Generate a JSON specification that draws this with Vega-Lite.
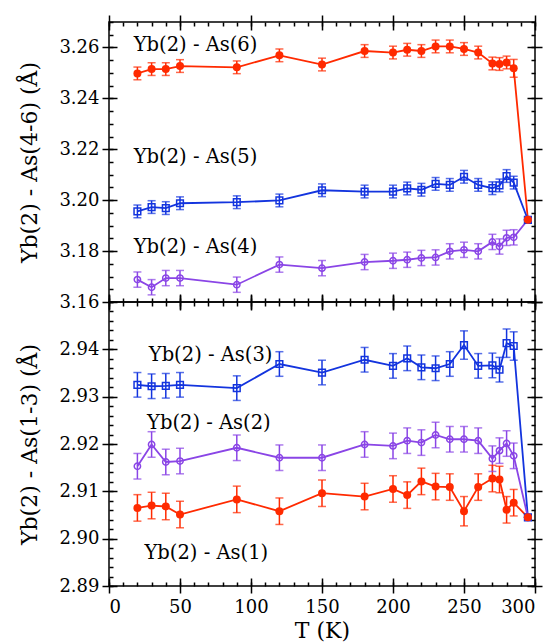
{
  "$schema": "https://vega.github.io/schema/vega-lite/v6.json",
  "padding": {"left": 18, "top": 13, "right": 5, "bottom": 0},
  "spacing": 0,
  "bounds": "flush",
  "config": {
    "font": "DejaVu Serif",
    "view": {"stroke": "black", "strokeWidth": 1.5},
    "text": {"font": "DejaVu Serif"},
    "axis": {"labelFont": "DejaVu Serif", "labelFontSize": 18, "titleFont": "DejaVu Serif", "titleFontSize": 22, "titleFontWeight": "normal", "labelColor": "black", "titleColor": "black", "tickColor": "black", "tickWidth": 1.5, "domain": false, "grid": false}
  },
  "datasets": {
    "top": [
      {"s":"As6","T":20,"d":3.2498,"lo":3.2473,"hi":3.2523},{"s":"As6","T":30,"d":3.2515,"lo":3.2490,"hi":3.2540},{"s":"As6","T":40,"d":3.2515,"lo":3.2490,"hi":3.2540},{"s":"As6","T":50,"d":3.2527,"lo":3.2502,"hi":3.2552},{"s":"As6","T":90,"d":3.2522,"lo":3.2497,"hi":3.2547},{"s":"As6","T":120,"d":3.2569,"lo":3.2544,"hi":3.2594},{"s":"As6","T":150,"d":3.2533,"lo":3.2508,"hi":3.2558},{"s":"As6","T":180,"d":3.2586,"lo":3.2561,"hi":3.2611},{"s":"As6","T":200,"d":3.2580,"lo":3.2555,"hi":3.2605},{"s":"As6","T":210,"d":3.2591,"lo":3.2566,"hi":3.2616},{"s":"As6","T":220,"d":3.2586,"lo":3.2561,"hi":3.2611},{"s":"As6","T":230,"d":3.2604,"lo":3.2579,"hi":3.2629},{"s":"As6","T":240,"d":3.2604,"lo":3.2579,"hi":3.2629},{"s":"As6","T":250,"d":3.2594,"lo":3.2569,"hi":3.2619},{"s":"As6","T":260,"d":3.2580,"lo":3.2555,"hi":3.2605},{"s":"As6","T":270,"d":3.2537,"lo":3.2512,"hi":3.2562},{"s":"As6","T":275,"d":3.2535,"lo":3.2510,"hi":3.2560},{"s":"As6","T":280,"d":3.2541,"lo":3.2516,"hi":3.2566},{"s":"As6","T":285,"d":3.2518,"lo":3.2483,"hi":3.2553},{"s":"As6","T":295,"d":3.1923,"lo":3.1923,"hi":3.1923},
      {"s":"As5","T":20,"d":3.1956,"lo":3.1931,"hi":3.1981},{"s":"As5","T":30,"d":3.1973,"lo":3.1948,"hi":3.1998},{"s":"As5","T":40,"d":3.1969,"lo":3.1944,"hi":3.1994},{"s":"As5","T":50,"d":3.1988,"lo":3.1963,"hi":3.2013},{"s":"As5","T":90,"d":3.1992,"lo":3.1967,"hi":3.2017},{"s":"As5","T":120,"d":3.1999,"lo":3.1974,"hi":3.2024},{"s":"As5","T":150,"d":3.2039,"lo":3.2014,"hi":3.2064},{"s":"As5","T":180,"d":3.2034,"lo":3.2009,"hi":3.2059},{"s":"As5","T":200,"d":3.2034,"lo":3.2009,"hi":3.2059},{"s":"As5","T":210,"d":3.2046,"lo":3.2021,"hi":3.2071},{"s":"As5","T":220,"d":3.2041,"lo":3.2016,"hi":3.2066},{"s":"As5","T":230,"d":3.2064,"lo":3.2039,"hi":3.2089},{"s":"As5","T":240,"d":3.2060,"lo":3.2035,"hi":3.2085},{"s":"As5","T":250,"d":3.2092,"lo":3.2067,"hi":3.2117},{"s":"As5","T":260,"d":3.2060,"lo":3.2035,"hi":3.2085},{"s":"As5","T":270,"d":3.2047,"lo":3.2022,"hi":3.2072},{"s":"As5","T":275,"d":3.2058,"lo":3.2033,"hi":3.2083},{"s":"As5","T":280,"d":3.2095,"lo":3.2070,"hi":3.2120},{"s":"As5","T":285,"d":3.2069,"lo":3.2044,"hi":3.2094},{"s":"As5","T":295,"d":3.1923,"lo":3.1923,"hi":3.1923},
      {"s":"As4","T":20,"d":3.1688,"lo":3.1658,"hi":3.1718},{"s":"As4","T":30,"d":3.1658,"lo":3.1628,"hi":3.1688},{"s":"As4","T":40,"d":3.1694,"lo":3.1664,"hi":3.1724},{"s":"As4","T":50,"d":3.1694,"lo":3.1664,"hi":3.1724},{"s":"As4","T":90,"d":3.1668,"lo":3.1638,"hi":3.1698},{"s":"As4","T":120,"d":3.1747,"lo":3.1717,"hi":3.1777},{"s":"As4","T":150,"d":3.1733,"lo":3.1703,"hi":3.1763},{"s":"As4","T":180,"d":3.1757,"lo":3.1727,"hi":3.1787},{"s":"As4","T":200,"d":3.1762,"lo":3.1732,"hi":3.1792},{"s":"As4","T":210,"d":3.1766,"lo":3.1736,"hi":3.1796},{"s":"As4","T":220,"d":3.1773,"lo":3.1743,"hi":3.1803},{"s":"As4","T":230,"d":3.1775,"lo":3.1745,"hi":3.1805},{"s":"As4","T":240,"d":3.1799,"lo":3.1769,"hi":3.1829},{"s":"As4","T":250,"d":3.1805,"lo":3.1775,"hi":3.1835},{"s":"As4","T":260,"d":3.1799,"lo":3.1769,"hi":3.1829},{"s":"As4","T":270,"d":3.1836,"lo":3.1806,"hi":3.1866},{"s":"As4","T":275,"d":3.1818,"lo":3.1788,"hi":3.1848},{"s":"As4","T":280,"d":3.1852,"lo":3.1822,"hi":3.1882},{"s":"As4","T":285,"d":3.1854,"lo":3.1824,"hi":3.1884},{"s":"As4","T":295,"d":3.1923,"lo":3.1923,"hi":3.1923}
    ],
    "bottom": [
      {"s":"As3","T":20,"d":2.9325,"lo":2.9299,"hi":2.9351},{"s":"As3","T":30,"d":2.9322,"lo":2.9296,"hi":2.9348},{"s":"As3","T":40,"d":2.9323,"lo":2.9297,"hi":2.9349},{"s":"As3","T":50,"d":2.9325,"lo":2.9299,"hi":2.9351},{"s":"As3","T":90,"d":2.9318,"lo":2.9292,"hi":2.9344},{"s":"As3","T":120,"d":2.9369,"lo":2.9343,"hi":2.9395},{"s":"As3","T":150,"d":2.9351,"lo":2.9325,"hi":2.9377},{"s":"As3","T":180,"d":2.9378,"lo":2.9352,"hi":2.9404},{"s":"As3","T":200,"d":2.9365,"lo":2.9339,"hi":2.9391},{"s":"As3","T":210,"d":2.9381,"lo":2.9355,"hi":2.9407},{"s":"As3","T":220,"d":2.9362,"lo":2.9336,"hi":2.9388},{"s":"As3","T":230,"d":2.9360,"lo":2.9334,"hi":2.9386},{"s":"As3","T":240,"d":2.9369,"lo":2.9343,"hi":2.9395},{"s":"As3","T":250,"d":2.9409,"lo":2.9379,"hi":2.9439},{"s":"As3","T":260,"d":2.9365,"lo":2.9339,"hi":2.9391},{"s":"As3","T":270,"d":2.9366,"lo":2.9340,"hi":2.9392},{"s":"As3","T":275,"d":2.9357,"lo":2.9331,"hi":2.9383},{"s":"As3","T":280,"d":2.9413,"lo":2.9383,"hi":2.9443},{"s":"As3","T":285,"d":2.9407,"lo":2.9377,"hi":2.9437},{"s":"As3","T":295,"d":2.9045,"lo":2.9045,"hi":2.9045},
      {"s":"As2","T":20,"d":2.9153,"lo":2.9126,"hi":2.9180},{"s":"As2","T":30,"d":2.9199,"lo":2.9172,"hi":2.9226},{"s":"As2","T":40,"d":2.9162,"lo":2.9135,"hi":2.9189},{"s":"As2","T":50,"d":2.9164,"lo":2.9137,"hi":2.9191},{"s":"As2","T":90,"d":2.9192,"lo":2.9165,"hi":2.9219},{"s":"As2","T":120,"d":2.9171,"lo":2.9144,"hi":2.9198},{"s":"As2","T":150,"d":2.9171,"lo":2.9144,"hi":2.9198},{"s":"As2","T":180,"d":2.9199,"lo":2.9172,"hi":2.9226},{"s":"As2","T":200,"d":2.9196,"lo":2.9169,"hi":2.9223},{"s":"As2","T":210,"d":2.9207,"lo":2.9180,"hi":2.9234},{"s":"As2","T":220,"d":2.9203,"lo":2.9176,"hi":2.9230},{"s":"As2","T":230,"d":2.9219,"lo":2.9192,"hi":2.9246},{"s":"As2","T":240,"d":2.9210,"lo":2.9183,"hi":2.9237},{"s":"As2","T":250,"d":2.9210,"lo":2.9183,"hi":2.9237},{"s":"As2","T":260,"d":2.9207,"lo":2.9180,"hi":2.9234},{"s":"As2","T":270,"d":2.9169,"lo":2.9142,"hi":2.9196},{"s":"As2","T":275,"d":2.9186,"lo":2.9159,"hi":2.9213},{"s":"As2","T":280,"d":2.9201,"lo":2.9174,"hi":2.9228},{"s":"As2","T":285,"d":2.9175,"lo":2.9148,"hi":2.9202},{"s":"As2","T":295,"d":2.9045,"lo":2.9045,"hi":2.9045},
      {"s":"As1","T":20,"d":2.9065,"lo":2.9037,"hi":2.9093},{"s":"As1","T":30,"d":2.9070,"lo":2.9042,"hi":2.9098},{"s":"As1","T":40,"d":2.9068,"lo":2.9040,"hi":2.9096},{"s":"As1","T":50,"d":2.9051,"lo":2.9023,"hi":2.9079},{"s":"As1","T":90,"d":2.9083,"lo":2.9055,"hi":2.9111},{"s":"As1","T":120,"d":2.9058,"lo":2.9030,"hi":2.9086},{"s":"As1","T":150,"d":2.9096,"lo":2.9068,"hi":2.9124},{"s":"As1","T":180,"d":2.9089,"lo":2.9061,"hi":2.9117},{"s":"As1","T":200,"d":2.9105,"lo":2.9077,"hi":2.9133},{"s":"As1","T":210,"d":2.9092,"lo":2.9064,"hi":2.9120},{"s":"As1","T":220,"d":2.9121,"lo":2.9093,"hi":2.9149},{"s":"As1","T":230,"d":2.9110,"lo":2.9082,"hi":2.9138},{"s":"As1","T":240,"d":2.9109,"lo":2.9081,"hi":2.9137},{"s":"As1","T":250,"d":2.9058,"lo":2.9027,"hi":2.9089},{"s":"As1","T":260,"d":2.9109,"lo":2.9081,"hi":2.9137},{"s":"As1","T":270,"d":2.9127,"lo":2.9099,"hi":2.9155},{"s":"As1","T":275,"d":2.9125,"lo":2.9097,"hi":2.9153},{"s":"As1","T":280,"d":2.9061,"lo":2.9033,"hi":2.9089},{"s":"As1","T":285,"d":2.9076,"lo":2.9048,"hi":2.9104},{"s":"As1","T":295,"d":2.9045,"lo":2.9045,"hi":2.9045}
    ]
  },
  "vconcat": [
    {
      "width": 426, "height": 280,
      "data": {"name": "top"},
      "resolve": {"axis": {"x": "independent", "y": "independent"}},
      "layer": [
        {"mark": {"type": "rule", "strokeWidth": 1.5},
         "encoding": {
           "x": {"field": "T", "type": "quantitative", "scale": {"domain": [0, 300], "nice": false}, "axis": {"orient": "bottom", "values": [0,50,100,150,200,250,300], "offset": -8, "tickSize": 15, "labels": false, "title": null}},
           "y": {"field": "lo", "type": "quantitative", "scale": {"domain": [3.16, 3.27], "nice": false, "zero": false}, "axis": {"orient": "left", "values": [3.16,3.18,3.2,3.22,3.24,3.26], "format": ".2f", "offset": -8, "tickSize": 15, "labelPadding": 3, "title": "Yb(2) - As(4-6) (Å)", "titlePadding": 17}},
           "y2": {"field": "hi"},
           "color": {"field": "s", "type": "nominal", "scale": {"domain": ["As6","As5","As4","As3","As2","As1"], "range": ["#ff2a00","#1334de","#8a45e6","#1334de","#8a45e6","#ff2a00"]}, "legend": null}}},
        {"mark": {"type": "tick", "orient": "horizontal", "size": 8, "thickness": 1.5},
         "encoding": {
           "x": {"field": "T", "type": "quantitative", "axis": {"orient": "bottom", "values": [0,10,20,30,40,50,60,70,80,90,100,110,120,130,140,150,160,170,180,190,200,210,220,230,240,250,260,270,280,290,300], "tickSize": -4, "labels": false, "title": null}},
           "y": {"field": "lo", "type": "quantitative", "axis": {"orient": "left", "values": [3.16,3.165,3.17,3.175,3.18,3.185,3.19,3.195,3.2,3.205,3.21,3.215,3.22,3.225,3.23,3.235,3.24,3.245,3.25,3.255,3.26,3.265,3.27], "tickSize": -4, "labels": false, "title": null}},
           "color": {"field": "s", "type": "nominal", "legend": null}}},
        {"mark": {"type": "tick", "orient": "horizontal", "size": 8, "thickness": 1.5},
         "encoding": {
           "x": {"field": "T", "type": "quantitative", "axis": {"orient": "top", "values": [0,50,100,150,200,250,300], "offset": -8, "tickSize": 15, "labels": false, "title": null}},
           "y": {"field": "hi", "type": "quantitative", "axis": {"orient": "right", "values": [3.16,3.18,3.2,3.22,3.24,3.26], "offset": -8, "tickSize": 15, "labels": false, "title": null}},
           "color": {"field": "s", "type": "nominal", "legend": null}}},
        {"mark": {"type": "line", "strokeWidth": 1.8},
         "encoding": {
           "x": {"field": "T", "type": "quantitative", "axis": {"orient": "top", "values": [0,10,20,30,40,50,60,70,80,90,100,110,120,130,140,150,160,170,180,190,200,210,220,230,240,250,260,270,280,290,300], "tickSize": -4, "labels": false, "title": null}},
           "y": {"field": "d", "type": "quantitative", "axis": {"orient": "right", "values": [3.16,3.165,3.17,3.175,3.18,3.185,3.19,3.195,3.2,3.205,3.21,3.215,3.22,3.225,3.23,3.235,3.24,3.245,3.25,3.255,3.26,3.265,3.27], "tickSize": -4, "labels": false, "title": null}},
           "color": {"field": "s", "type": "nominal", "legend": null}}},
        {"transform": [{"filter": "datum.s == 'As5'"}],
         "mark": {"type": "point", "shape": "square", "filled": false, "size": 45, "strokeWidth": 1.5, "opacity": 1},
         "encoding": {"x": {"field": "T", "type": "quantitative", "axis": null}, "y": {"field": "d", "type": "quantitative", "axis": null}, "color": {"field": "s", "type": "nominal", "legend": null}}},
        {"transform": [{"filter": "datum.s == 'As4'"}],
         "mark": {"type": "point", "shape": "circle", "filled": false, "size": 40, "strokeWidth": 1.5, "opacity": 1},
         "encoding": {"x": {"field": "T", "type": "quantitative", "axis": null}, "y": {"field": "d", "type": "quantitative", "axis": null}, "color": {"field": "s", "type": "nominal", "legend": null}}},
        {"transform": [{"filter": "datum.s == 'As6'"}],
         "mark": {"type": "point", "shape": "circle", "filled": true, "size": 64, "opacity": 1},
         "encoding": {"x": {"field": "T", "type": "quantitative", "axis": null}, "y": {"field": "d", "type": "quantitative", "axis": null}, "color": {"field": "s", "type": "nominal", "legend": null}}},
        {"data": {"values": [{"label": "Yb(2) - As(6)", "T": 17.4, "d": 3.2611}, {"label": "Yb(2) - As(5)", "T": 17.4, "d": 3.2171}, {"label": "Yb(2) - As(4)", "T": 17.4, "d": 3.1815}]},
         "mark": {"type": "text", "align": "left", "baseline": "middle", "font": "DejaVu Serif", "fontSize": 19.5, "color": "black"},
         "encoding": {"x": {"field": "T", "type": "quantitative", "axis": null}, "y": {"field": "d", "type": "quantitative", "axis": null}, "text": {"field": "label"}}}
      ]
    },
    {
      "width": 426, "height": 284,
      "data": {"name": "bottom"},
      "resolve": {"axis": {"x": "independent", "y": "independent"}},
      "layer": [
        {"mark": {"type": "rule", "strokeWidth": 1.5},
         "encoding": {
           "x": {"field": "T", "type": "quantitative", "scale": {"domain": [0, 300], "nice": false}, "axis": {"orient": "bottom", "values": [0,50,100,150,200,250,300], "format": "d", "offset": -8, "tickSize": 15, "labelPadding": 5, "title": "T (K)", "titlePadding": 4}},
           "y": {"field": "lo", "type": "quantitative", "scale": {"domain": [2.89, 2.95], "nice": false, "zero": false}, "axis": {"orient": "left", "values": [2.89,2.9,2.91,2.92,2.93,2.94], "format": ".2f", "offset": -8, "tickSize": 15, "labelPadding": 3, "title": "Yb(2) - As(1-3) (Å)", "titlePadding": 17}},
           "y2": {"field": "hi"},
           "color": {"field": "s", "type": "nominal", "scale": {"domain": ["As6","As5","As4","As3","As2","As1"], "range": ["#ff2a00","#1334de","#8a45e6","#1334de","#8a45e6","#ff2a00"]}, "legend": null}}},
        {"mark": {"type": "tick", "orient": "horizontal", "size": 8, "thickness": 1.5},
         "encoding": {
           "x": {"field": "T", "type": "quantitative", "axis": {"orient": "bottom", "values": [0,10,20,30,40,50,60,70,80,90,100,110,120,130,140,150,160,170,180,190,200,210,220,230,240,250,260,270,280,290,300], "tickSize": -4, "labels": false, "title": null}},
           "y": {"field": "lo", "type": "quantitative", "axis": {"orient": "left", "values": [2.89,2.892,2.894,2.896,2.898,2.9,2.902,2.904,2.906,2.908,2.91,2.912,2.914,2.916,2.918,2.92,2.922,2.924,2.926,2.928,2.93,2.932,2.934,2.936,2.938,2.94,2.942,2.944,2.946,2.948,2.95], "tickSize": -4, "labels": false, "title": null}},
           "color": {"field": "s", "type": "nominal", "legend": null}}},
        {"mark": {"type": "tick", "orient": "horizontal", "size": 8, "thickness": 1.5},
         "encoding": {
           "x": {"field": "T", "type": "quantitative", "axis": {"orient": "top", "values": [0,50,100,150,200,250,300], "offset": -8, "tickSize": 15, "labels": false, "title": null}},
           "y": {"field": "hi", "type": "quantitative", "axis": {"orient": "right", "values": [2.89,2.9,2.91,2.92,2.93,2.94,2.95], "offset": -8, "tickSize": 15, "labels": false, "title": null}},
           "color": {"field": "s", "type": "nominal", "legend": null}}},
        {"mark": {"type": "line", "strokeWidth": 1.8},
         "encoding": {
           "x": {"field": "T", "type": "quantitative", "axis": {"orient": "top", "values": [0,10,20,30,40,50,60,70,80,90,100,110,120,130,140,150,160,170,180,190,200,210,220,230,240,250,260,270,280,290,300], "tickSize": -4, "labels": false, "title": null}},
           "y": {"field": "d", "type": "quantitative", "axis": {"orient": "right", "values": [2.89,2.892,2.894,2.896,2.898,2.9,2.902,2.904,2.906,2.908,2.91,2.912,2.914,2.916,2.918,2.92,2.922,2.924,2.926,2.928,2.93,2.932,2.934,2.936,2.938,2.94,2.942,2.944,2.946,2.948,2.95], "tickSize": -4, "labels": false, "title": null}},
           "color": {"field": "s", "type": "nominal", "legend": null}}},
        {"transform": [{"filter": "datum.s == 'As3'"}],
         "mark": {"type": "point", "shape": "square", "filled": false, "size": 45, "strokeWidth": 1.5, "opacity": 1},
         "encoding": {"x": {"field": "T", "type": "quantitative", "axis": null}, "y": {"field": "d", "type": "quantitative", "axis": null}, "color": {"field": "s", "type": "nominal", "legend": null}}},
        {"transform": [{"filter": "datum.s == 'As2'"}],
         "mark": {"type": "point", "shape": "circle", "filled": false, "size": 40, "strokeWidth": 1.5, "opacity": 1},
         "encoding": {"x": {"field": "T", "type": "quantitative", "axis": null}, "y": {"field": "d", "type": "quantitative", "axis": null}, "color": {"field": "s", "type": "nominal", "legend": null}}},
        {"transform": [{"filter": "datum.s == 'As1'"}],
         "mark": {"type": "point", "shape": "circle", "filled": true, "size": 64, "opacity": 1},
         "encoding": {"x": {"field": "T", "type": "quantitative", "axis": null}, "y": {"field": "d", "type": "quantitative", "axis": null}, "color": {"field": "s", "type": "nominal", "legend": null}}},
        {"data": {"values": [{"label": "Yb(2) - As(3)", "T": 28, "d": 2.9387}, {"label": "Yb(2) - As(2)", "T": 26.8, "d": 2.9245}, {"label": "Yb(2) - As(1)", "T": 25, "d": 2.897}]},
         "mark": {"type": "text", "align": "left", "baseline": "middle", "font": "DejaVu Serif", "fontSize": 19.5, "color": "black"},
         "encoding": {"x": {"field": "T", "type": "quantitative", "axis": null}, "y": {"field": "d", "type": "quantitative", "axis": null}, "text": {"field": "label"}}}
      ]
    }
  ]
}
